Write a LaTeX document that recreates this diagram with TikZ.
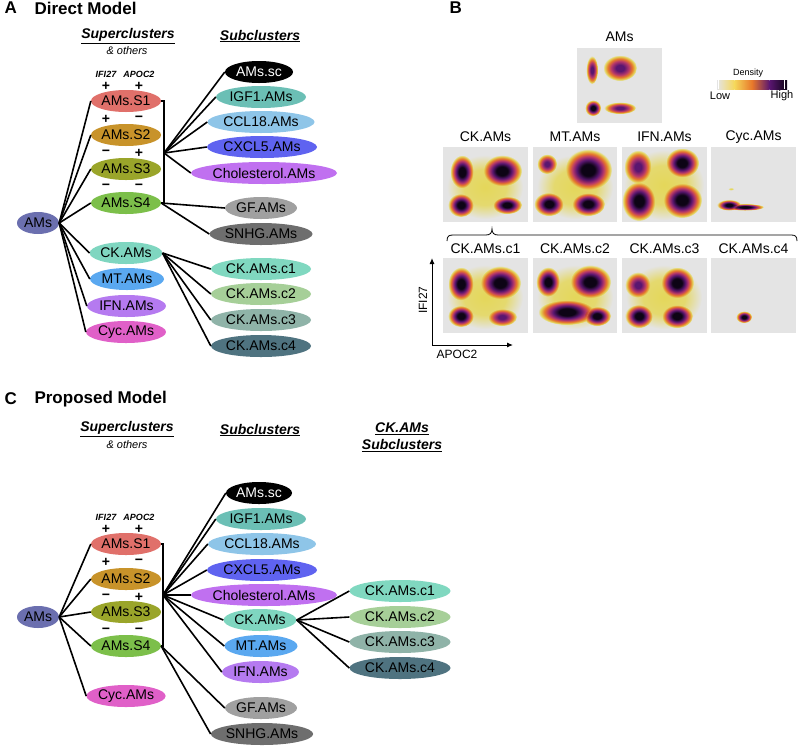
\documentclass[tikz,border=0pt]{standalone}
\usepackage{fontspec}
\setmainfont{Liberation Sans}
\usetikzlibrary{shapes.geometric,arrows.meta}
\definecolor{cAMs}{HTML}{6B6FAF}
\definecolor{cS1}{HTML}{E0706A}
\definecolor{cS2}{HTML}{C8932A}
\definecolor{cS3}{HTML}{9AA52A}
\definecolor{cS4}{HTML}{7CBF4A}
\definecolor{cCK}{HTML}{7FD6C0}
\definecolor{cMT}{HTML}{5AA8F0}
\definecolor{cIFN}{HTML}{B57AF0}
\definecolor{cCyc}{HTML}{E060C8}
\definecolor{cIGF}{HTML}{6BBFB5}
\definecolor{cCCL}{HTML}{8EC5E8}
\definecolor{cCXCL}{HTML}{5F63F0}
\definecolor{cChol}{HTML}{C070F0}
\definecolor{cGF}{HTML}{A0A0A0}
\definecolor{cSNHG}{HTML}{6E6E6E}
\definecolor{cc1}{HTML}{80D8C0}
\definecolor{cc2}{HTML}{A6CF98}
\definecolor{cc3}{HTML}{8FB3A8}
\definecolor{cc4}{HTML}{4F7380}
\definecolor{plotbg}{HTML}{E4E4E4}
\definecolor{infblack}{HTML}{0D0415}
\definecolor{infpurple}{HTML}{5A1670}
\definecolor{infred}{HTML}{B5366B}
\definecolor{inforange}{HTML}{E8782A}
\definecolor{infyellow}{HTML}{F5D75A}
\pgfdeclareradialshading{infdark}{\pgfpointorigin}{color(0bp)=(infblack); color(7bp)=(infblack); color(12bp)=(infpurple); color(16bp)=(infred); color(19.5bp)=(inforange); color(23bp)=(infyellow); color(25bp)=(plotbg); color(50bp)=(plotbg)}
\pgfdeclareradialshading{infmid}{\pgfpointorigin}{color(0bp)=(infpurple); color(6bp)=(infpurple); color(13bp)=(infred); color(18bp)=(inforange); color(22.5bp)=(infyellow); color(25bp)=(plotbg); color(50bp)=(plotbg)}
\pgfdeclareradialshading{infhaze}{\pgfpointorigin}{color(0bp)=(infyellow); color(14bp)=(infyellow!85!plotbg); color(25bp)=(plotbg); color(50bp)=(plotbg)}
\newcommand{\dblob}[5]{\shade[shading=#1] (#2,#3) ellipse (#4pt and #5pt);}
\begin{document}
\begin{tikzpicture}[x=1pt,y=-1pt,
  cl/.style={ellipse, inner sep=0pt, minimum height=22pt, font=\fontsize{14}{16}\selectfont, text=black},
  ln/.style={line width=1.6pt, black},
  hdr/.style={font=\fontsize{14}{17}\selectfont\bfseries\itshape, align=center},
  oth/.style={font=\fontsize{11}{12}\selectfont\itshape},
  sgn/.style={font=\fontsize{14}{14}\selectfont\bfseries},
  gene/.style={font=\fontsize{9}{10}\selectfont\bfseries\itshape},
  ttl/.style={font=\fontsize{17}{20}\selectfont\bfseries, anchor=west},
  ptitle/.style={font=\fontsize{14}{16}\selectfont},
  axl/.style={font=\fontsize{12}{14}\selectfont}]
\useasboundingbox (0,0) rectangle (799,748);

% ================= Panel A =================
\node[ttl] (tA) at (1,8) {A};
\node[ttl] (tAm) at (31,8) {Direct Model};
\node[hdr] (hA1) at (128,36) {\underline{Superclusters}};
\node[oth] (hA2) at (127,51) {\& others};
\node[hdr] (hA3) at (260,36) {\underline{Subclusters}};
\node[gene] (gA1) at (106,74) {IFI27};
\node[gene] (gA2) at (139,74) {APOC2};
\node[sgn] (sA1) at (106,86) {+};
\node[sgn] (sA2) at (139,86) {+};
\node[sgn] (sA3) at (106,119) {+};
\node[sgn] (sA4) at (139,119) {−};
\node[sgn] (sA5) at (106,153) {−};
\node[sgn] (sA6) at (139,153) {+};
\node[sgn] (sA7) at (106,187) {−};
\node[sgn] (sA8) at (139,187) {−};

\node[cl, fill=cAMs, minimum width=42pt] (aAMs) at (38,223) {AMs};
\node[cl, fill=cS1, minimum width=70pt] (aS1) at (126,101) {AMs.S1};
\node[cl, fill=cS2, minimum width=70pt] (aS2) at (126,135) {AMs.S2};
\node[cl, fill=cS3, minimum width=70pt] (aS3) at (126,169) {AMs.S3};
\node[cl, fill=cS4, minimum width=70pt] (aS4) at (126,203) {AMs.S4};
\node[cl, fill=cCK, minimum width=72pt] (aCK) at (126,253) {CK.AMs};
\node[cl, fill=cMT, minimum width=74pt] (aMT) at (127,279) {MT.AMs};
\node[cl, fill=cIFN, minimum width=79pt] (aIFN) at (126.5,306) {IFN.AMs};
\node[cl, fill=cCyc, minimum width=80pt] (aCyc) at (126,332) {Cyc.AMs};

\node[cl, fill=black, text=white, minimum width=68pt] (aSC) at (259,72) {AMs.sc};
\node[cl, fill=cIGF, minimum width=90pt] (aIGF) at (261,97) {IGF1.AMs};
\node[cl, fill=cCCL, minimum width=107pt] (aCCL) at (261,122) {CCL18.AMs};
\node[cl, fill=cCXCL, minimum width=110pt] (aCXCL) at (262,147) {CXCL5.AMs};
\node[cl, fill=cChol, minimum width=146pt] (aChol) at (264,173) {Cholesterol.AMs};
\node[cl, fill=cGF, minimum width=72pt] (aGF) at (261,208) {GF.AMs};
\node[cl, fill=cSNHG, minimum width=103pt] (aSNHG) at (261,234) {SNHG.AMs};
\node[cl, fill=cc1, minimum width=100pt] (ac1) at (261,269) {CK.AMs.c1};
\node[cl, fill=cc2, minimum width=100pt] (ac2) at (261,294) {CK.AMs.c2};
\node[cl, fill=cc3, minimum width=100pt] (ac3) at (261,320) {CK.AMs.c3};
\node[cl, fill=cc4, minimum width=100pt] (ac4) at (261,346) {CK.AMs.c4};

\coordinate (jA) at (164,153);
\foreach \t in {aS1,aS2,aS3,aS4,aCK,aMT,aIFN,aCyc}
  \draw[ln] (aAMs.east) -- (\t.west);
\draw[ln] (aS1.east) -- (aS1.east -| jA) -- (aS4.east -| jA) -- (aS4.east);
\foreach \t in {aSC,aIGF,aCCL,aCXCL,aChol}
  \draw[ln] (jA) -- (\t.west);
\foreach \t in {aGF,aSNHG}
  \draw[ln] (aS4.east) -- (\t.west);
\foreach \t in {ac1,ac2,ac3,ac4}
  \draw[ln] (aCK.east) -- (\t.west);

% ================= Panel B =================
\node[ttl] (tB) at (446,8) {B};
\node[ptitle] (pAMs) at (619.5,37) {AMs};
\fill[plotbg] (577,48) rectangle (662,123);
\node[font=\fontsize{9}{10}\selectfont] (dens) at (748,73) {Density};
\shade[left color=plotbg, right color=infyellow] (717,80) rectangle (734.5,89);
\shade[left color=infyellow, right color=inforange] (734.5,80) rectangle (752,89);
\shade[left color=inforange, right color=infpurple] (752,80) rectangle (769.5,89);
\shade[left color=infpurple, right color=infblack] (769.5,80) rectangle (787,89);
\draw[white, line width=0.8pt] (718.5,80) -- (718.5,89) (784.5,80) -- (784.5,89);
\node[font=\fontsize{11}{12}\selectfont] (low) at (720,96) {Low};
\node[font=\fontsize{11}{12}\selectfont] (high) at (782,96) {High};

\node[ptitle] (pCK) at (485.5,137) {CK.AMs};
\node[ptitle] (pMT) at (575,137) {MT.AMs};
\node[ptitle] (pIFN) at (664.5,137) {IFN.AMs};
\node[ptitle] (pCyc) at (753.5,137) {Cyc.AMs};
\fill[plotbg] (443,147) rectangle (528,222);
\fill[plotbg] (533,147) rectangle (617,222);
\fill[plotbg] (622,147) rectangle (707,222);
\fill[plotbg] (711,147) rectangle (796,222);

\node[ptitle] (pc1) at (485.5,249) {CK.AMs.c1};
\node[ptitle] (pc2) at (575,249) {CK.AMs.c2};
\node[ptitle] (pc3) at (664.5,249) {CK.AMs.c3};
\node[ptitle] (pc4) at (753.5,249) {CK.AMs.c4};
\fill[plotbg] (443,258) rectangle (528,333);
\fill[plotbg] (533,258) rectangle (617,333);
\fill[plotbg] (622,258) rectangle (707,333);
\fill[plotbg] (711,258) rectangle (796,333);

\begin{scope}[blend mode=darken]
% AMs
\dblob{infmid}{592}{70}{6}{14}
\dblob{infmid}{620}{68}{17}{13}
\dblob{infdark}{593}{108}{8}{8}
\dblob{infmid}{620}{108}{16}{6}
% CK
\dblob{infhaze}{485}{187}{38}{32}
\dblob{infdark}{462}{172}{12}{17}
\dblob{infdark}{502}{171}{20}{16}
\dblob{infdark}{461}{205}{13}{12}
\dblob{infdark}{507}{205}{15}{9}
% MT
\dblob{infhaze}{575}{187}{38}{32}
\dblob{infmid}{547}{164}{10}{10}
\dblob{infdark}{588}{170}{24}{21}
\dblob{infdark}{549}{204}{15}{12}
\dblob{infdark}{588}{204}{17}{12}
% IFN
\dblob{infhaze}{664}{185}{40}{35}
\dblob{infmid}{638}{167}{14}{17}
\dblob{infdark}{639}{201}{17}{20}
\dblob{infdark}{682}{163}{17}{15}
\dblob{infdark}{682}{200}{20}{18}
% Cyc
\dblob{infhaze}{731}{189}{3}{1.5}
\dblob{infdark}{745}{207}{19}{3.5}
\dblob{infdark}{729}{205}{12}{5.5}
% c1
\dblob{infhaze}{485}{297}{38}{32}
\dblob{infdark}{461}{284}{13}{17}
\dblob{infdark}{500}{283}{21}{17}
\dblob{infdark}{461}{316}{13}{11}
\dblob{infmid}{502}{317}{15}{9}
% c2
\dblob{infhaze}{575}{297}{38}{32}
\dblob{infdark}{548}{282}{12}{15}
\dblob{infdark}{590}{282}{21}{17}
\dblob{infdark}{567}{312}{29}{13}
\dblob{infdark}{597}{316}{14}{10}
% c3
\dblob{infhaze}{664}{297}{38}{32}
\dblob{infmid}{638}{285}{13}{13}
\dblob{infdark}{677}{283}{17}{16}
\dblob{infdark}{639}{316}{14}{12}
\dblob{infdark}{677}{316}{16}{12}
% c4
\dblob{infdark}{744}{317}{8}{6}
\end{scope}

% brace
\draw[line width=0.8pt] (447,241) .. controls (447,236) and (449,235) .. (453,235)
  -- (486,235) .. controls (490,235) and (492,233) .. (492,229)
  .. controls (492,233) and (494,235) .. (498,235)
  -- (791,235) .. controls (795,235) and (797,236) .. (797,241);

% axes
\coordinate (ax0) at (432,345);
\coordinate (axy) at (432,258);
\coordinate (axx) at (513,345);
\draw[line width=1pt, -{Latex[length=6pt,width=5pt]}] (ax0) -- (axy);
\draw[line width=1pt, -{Latex[length=6pt,width=5pt]}] (ax0) -- (axx);
\node[axl, rotate=90] (lyy) at (423,300) {IFI27};
\node[axl] (lxx) at (457,354) {APOC2};

% ================= Panel C =================
\node[ttl] (tC) at (1,399) {C};
\node[ttl] (tCm) at (31,399) {Proposed Model};
\node[hdr] (hC1) at (127,429) {\underline{Superclusters}};
\node[oth] (hC2) at (127,445) {\& others};
\node[hdr] (hC3) at (260,430) {\underline{Subclusters}};
\node[hdr] (hC4) at (402,437) {\underline{CK.AMs}\\\underline{Subclusters}};
\node[gene] (gC1) at (106,517) {IFI27};
\node[gene] (gC2) at (139,517) {APOC2};
\node[sgn] (sC1) at (106,529) {+};
\node[sgn] (sC2) at (139,529) {+};
\node[sgn] (sC3) at (106,562) {+};
\node[sgn] (sC4) at (139,562) {−};
\node[sgn] (sC5) at (106,597) {−};
\node[sgn] (sC6) at (139,597) {+};
\node[sgn] (sC7) at (106,631) {−};
\node[sgn] (sC8) at (139,631) {−};

\node[cl, fill=cAMs, minimum width=42pt] (cAMsN) at (38,617) {AMs};
\node[cl, fill=cS1, minimum width=70pt] (cS1N) at (126,544) {AMs.S1};
\node[cl, fill=cS2, minimum width=70pt] (cS2N) at (126,579) {AMs.S2};
\node[cl, fill=cS3, minimum width=70pt] (cS3N) at (126,612) {AMs.S3};
\node[cl, fill=cS4, minimum width=70pt] (cS4N) at (126,646) {AMs.S4};
\node[cl, fill=cCyc, minimum width=79pt] (cCycN) at (126,696) {Cyc.AMs};

\node[cl, fill=black, text=white, minimum width=66pt] (cSC) at (259,493) {AMs.sc};
\node[cl, fill=cIGF, minimum width=90pt] (cIGFN) at (261,519) {IGF1.AMs};
\node[cl, fill=cCCL, minimum width=108pt] (cCCLN) at (262,544) {CCL18.AMs};
\node[cl, fill=cCXCL, minimum width=110pt] (cCXCLN) at (262,570) {CXCL5.AMs};
\node[cl, fill=cChol, minimum width=146pt] (cCholN) at (264,595) {Cholesterol.AMs};
\node[cl, fill=cCK, minimum width=73pt] (cCKN) at (260,620) {CK.AMs};
\node[cl, fill=cMT, minimum width=73pt] (cMTN) at (261,646) {MT.AMs};
\node[cl, fill=cIFN, minimum width=77pt] (cIFNN) at (260.5,672) {IFN.AMs};
\node[cl, fill=cGF, minimum width=72pt] (cGFN) at (261,708) {GF.AMs};
\node[cl, fill=cSNHG, minimum width=102pt] (cSNHGN) at (262,734) {SNHG.AMs};
\node[cl, fill=cc1, minimum width=101pt] (cc1N) at (400,591) {CK.AMs.c1};
\node[cl, fill=cc2, minimum width=101pt] (cc2N) at (400,617) {CK.AMs.c2};
\node[cl, fill=cc3, minimum width=101pt] (cc3N) at (400,642) {CK.AMs.c3};
\node[cl, fill=cc4, minimum width=101pt] (cc4N) at (400,668) {CK.AMs.c4};

\coordinate (jC) at (163,595);
\foreach \t in {cS1N,cS2N,cS3N,cS4N,cCycN}
  \draw[ln] (cAMsN.east) -- (\t.west);
\draw[ln] (cS1N.east) -- (cS1N.east -| jC) -- (cS4N.east -| jC) -- (cS4N.east);
\foreach \t in {cSC,cIGFN,cCCLN,cCXCLN,cCholN,cCKN,cMTN,cIFNN}
  \draw[ln] (jC) -- (\t.west);
\foreach \t in {cGFN,cSNHGN}
  \draw[ln] (cS4N.east) -- (\t.west);
\foreach \t in {cc1N,cc2N,cc3N,cc4N}
  \draw[ln] (cCKN.east) -- (\t.west);
\end{tikzpicture}
\end{document}
